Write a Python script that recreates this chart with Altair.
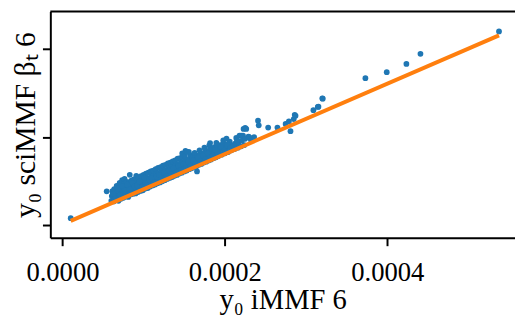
import altair as alt
import pandas as pd

# values are in units of 1e-6
x_iMMF_e6 = [
    10.2, 54.5,
    60.2, 60.8, 61.5,
    63.0, 63.5, 64.2, 63.8,
    66.0, 66.5, 67.2, 66.8,
    69.0, 69.5, 70.2, 69.8, 70.5,
    72.0, 72.5, 73.2, 72.8, 73.5,
    75.0, 75.6, 76.2, 75.8, 76.5,
    78.0, 78.5, 79.2, 78.8,
    81.0, 81.5, 82.2, 81.8, 82.9,
    84.0, 84.5, 85.2, 84.8,
    87.0, 87.6, 88.2, 87.8, 90.9,
    90.0, 90.5, 91.2, 90.8,
    93.0, 93.5, 94.2, 93.8,
    96.0, 96.6, 97.2, 96.8,
    99.0, 99.5, 100.2, 99.8,
    102.0, 102.5, 103.2, 102.8,
    105.0, 105.6, 106.2, 105.8, 109.0,
    108.0, 108.5, 109.2, 108.8,
    111.0, 111.5, 112.2, 111.8,
    114.0, 114.6, 115.2, 114.8,
    117.0, 117.5, 118.2, 117.8,
    120.0, 120.5, 121.2, 120.8,
    123.0, 123.6, 124.2, 123.8,
    126.0, 126.5, 127.2, 126.8,
    129.0, 129.5, 130.2, 129.8,
    132.0, 132.6, 133.2, 132.8,
    135.0, 135.5, 136.2, 135.8,
    138.0, 138.5, 139.2, 138.8,
    141.0, 141.6, 142.2, 141.8,
    144.0, 144.5, 145.2, 144.8,
    147.0, 147.5, 148.2, 147.8, 147.5,
    150.0, 150.6, 151.2, 150.8, 151.5,
    153.0, 153.5, 154.2, 153.6,
    156.0, 156.5, 157.2, 157.6, 155.6,
    159.0, 159.6, 160.2,
    162.0, 162.5, 163.2, 162.8,
    165.7, 165.0, 165.6, 166.2,
    168.0, 168.5, 169.2, 168.8,
    171.0, 171.6, 172.2,
    174.0, 174.5, 175.2, 174.8,
    177.0, 177.5, 178.2,
    180.0, 180.6, 181.2, 180.8, 181.8,
    183.0, 183.5, 184.2,
    186.0, 186.5, 187.2,
    189.0, 189.6, 190.2, 189.5,
    192.0, 193.0, 194.0,
    196.0, 197.0, 198.0, 198.0,
    200.0, 201.0, 202.0,
    204.0, 205.0, 206.0,
    208.0, 209.0,
    212.0, 213.0, 214.0,
    216.0, 216.0, 217.0, 218.0,
    220.0, 220.0, 221.0, 222.3,
    223.0, 224.0, 225.0, 225.0, 226.3,
    229.0, 230.0, 232.0, 236.0,
    240.8, 241.7,
    253.3, 264.7, 274.8, 278.8, 280.8, 284.8, 286.0, 287.0,
    309.0, 314.4, 315.2, 320.0, 320.5,
    373.0, 399.3, 423.5, 440.8,
    537.5,
    # extra fill points inside the dense band
    62.0, 65.0, 68.0, 71.0, 74.0, 77.0, 80.0, 83.0, 86.0, 89.0,
    92.0, 95.0, 98.0, 101.0, 104.0, 107.0, 110.0, 113.0, 116.0, 119.0,
    122.0, 125.0, 128.0, 131.0, 134.0, 137.0, 140.0, 143.0, 146.0, 149.0,
    152.0, 155.0, 158.0, 161.0, 164.0, 167.0, 170.0, 173.0, 176.0, 179.0,
    182.0, 185.0, 188.0, 191.0, 195.0, 199.0, 203.0, 207.0, 211.0, 215.0,
]
y_sciMMF_e6 = [
    7.8, 38.4,
    27.5, 33.0, 38.5,
    26.8, 31.5, 36.0, 41.0,
    28.5, 33.8, 39.0, 44.5,
    27.5, 32.0, 37.5, 42.5, 48.0,
    29.8, 35.0, 40.2, 45.5, 51.0,
    31.0, 36.8, 42.0, 47.0, 52.5,
    32.5, 38.0, 43.5, 49.0,
    32.0, 37.5, 42.8, 48.5, 57.1,
    34.8, 40.0, 45.2, 50.5,
    35.5, 41.0, 46.5, 52.0, 56.0,
    36.0, 41.8, 47.2, 51.0,
    37.5, 43.0, 48.5, 54.0,
    38.8, 44.5, 50.0, 55.5,
    39.5, 45.5, 51.2, 57.0,
    41.5, 47.0, 52.5, 58.5,
    42.0, 48.0, 53.5, 59.5, 60.8,
    43.8, 49.5, 55.0, 61.0,
    45.0, 50.8, 56.5, 62.0,
    46.0, 52.0, 57.5, 63.5,
    47.5, 53.2, 59.0, 65.0,
    48.5, 54.5, 60.0, 66.0,
    49.8, 55.5, 61.5, 67.5,
    51.0, 57.0, 62.5, 68.5,
    52.5, 58.0, 64.0, 70.0,
    53.5, 59.5, 65.0, 71.0,
    54.5, 60.5, 66.5, 72.5,
    56.0, 62.0, 67.5, 73.5,
    57.0, 63.0, 69.0, 75.5,
    58.5, 64.5, 70.0, 76.0,
    59.5, 65.5, 71.5, 77.5, 81.4,
    61.0, 67.0, 72.5, 78.0, 84.3,
    62.0, 68.0, 74.0, 83.2,
    63.5, 69.5, 75.0, 79.5, 83.2,
    64.5, 70.5, 76.5,
    66.0, 72.0, 77.5, 82.0,
    60.9, 67.0, 73.0, 79.0,
    68.5, 74.5, 80.0, 85.0,
    69.5, 75.5, 81.0,
    71.0, 77.0, 82.5, 88.0,
    72.0, 78.0, 84.0,
    73.5, 79.5, 85.0, 90.5, 93.2,
    74.5, 80.5, 86.0,
    76.0, 82.0, 88.5,
    77.0, 83.0, 89.5, 93.5,
    78.5, 85.0, 91.0,
    80.0, 87.0, 93.0, 96.3,
    81.5, 88.0, 98.2,
    83.0, 89.5, 95.0,
    85.0, 91.0,
    86.5, 93.0, 99.0,
    88.0, 92.6, 95.0, 101.8,
    89.5, 101.8, 96.0, 101.8,
    109.3, 91.0, 110.5, 98.0, 109.3,
    100.5, 99.9, 97.0, 100.0,
    118.6, 113.4,
    110.8, 110.8, 114.9, 117.8, 106.7, 120.5, 125.4, 124.2,
    130.6, 134.3, 134.6, 144.0, 143.6,
    167.0, 173.8, 183.2, 194.7,
    220.1,
    # extra fill points inside the dense band
    35.5, 30.0, 41.5, 34.0, 44.0, 39.5, 46.0, 40.5, 48.0, 44.0,
    45.0, 49.5, 43.0, 54.0, 45.5, 52.0, 53.0, 48.5, 55.0, 57.0,
    52.0, 59.5, 55.5, 62.0, 57.5, 64.5, 60.0, 67.0, 62.5, 69.5,
    65.0, 72.0, 67.5, 73.5, 70.0, 77.0, 72.5, 79.0, 75.0, 81.5,
    77.5, 79.0, 85.5, 81.0, 89.0, 84.5, 92.0, 88.0, 90.0, 96.5,
]
fit_x_e6 = [10.2, 537.5]
fit_y_e6 = [4.8, 215.7]

x_ticks = [0.0, 0.0002, 0.0004]
y_ticks = [0.0, 0.0001, 0.0002]

pts = pd.DataFrame({"x": [v * 1e-6 for v in x_iMMF_e6],
                    "y": [v * 1e-6 for v in y_sciMMF_e6]})
fit = pd.DataFrame({"x": [v * 1e-6 for v in fit_x_e6],
                    "y": [v * 1e-6 for v in fit_y_e6]})

W, H = 472, 230
FONT = "Liberation Serif"

xscale = alt.Scale(domain=[-14.9e-6, 557.2e-6], nice=False, zero=False)
yscale = alt.Scale(domain=[-14.5e-6, 242.9e-6], nice=False, zero=False)

xaxis = alt.Axis(values=x_ticks, format=".4f", title="y₀ iMMF 6", grid=False,
                 domainColor="black", domainWidth=2, tickColor="black",
                 tickWidth=2, tickSize=8, labelFont=FONT, labelFontSize=27,
                 labelColor="black", labelBaseline="alphabetic", labelPadding=35,
                 labelFlush=False, titleFont=FONT, titleFontSize=29,
                 titleFontWeight="normal", titleColor="black", titleY=72,
                 titleBaseline="alphabetic")
yaxis = alt.Axis(values=y_ticks, labels=False, title="y₀ sciMMF βₜ 6", grid=False,
                 domainColor="black", domainWidth=2, tickColor="black",
                 tickWidth=2, tickSize=8, titleFont=FONT, titleFontSize=30,
                 titleFontWeight="normal", titleColor="black", titleX=-16,
                 titleBaseline="alphabetic")

points = alt.Chart(pts).mark_circle(size=34, color="#1f77b4", opacity=1).encode(
    x=alt.X("x:Q", scale=xscale, axis=xaxis),
    y=alt.Y("y:Q", scale=yscale, axis=yaxis),
)
line = alt.Chart(fit).mark_line(color="#ff7f0e", strokeWidth=4).encode(
    x=alt.X("x:Q", scale=xscale),
    y=alt.Y("y:Q", scale=yscale),
)
top = alt.Chart(pd.DataFrame({"t": [0]})).mark_rule(color="black", strokeWidth=2).encode(
    x=alt.value(0), x2=alt.value(W), y=alt.value(0)
)

chart = alt.layer(points, line, top).properties(
    width=W, height=H,
    autosize=alt.AutoSizeParams(type="none"),
    padding={"left": 43, "top": 1, "right": 0, "bottom": 79},
    background="white",
).configure_view(stroke=None)

chart.save("out.html", embed_options={"renderer": "svg", "actions": False})
